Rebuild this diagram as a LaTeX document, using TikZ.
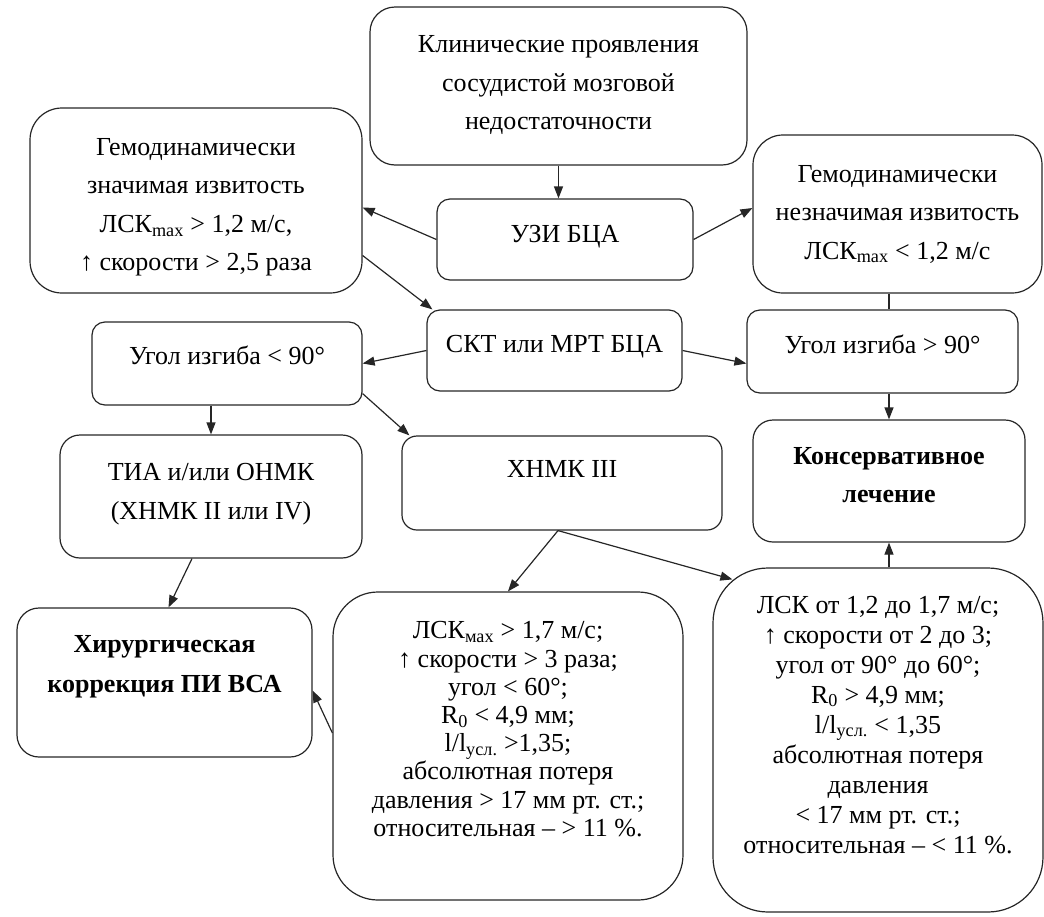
\documentclass[tikz,border=0pt]{standalone}
\usepackage{fontspec}
\setmainfont{Liberation Serif}
\usetikzlibrary{arrows.meta}
\newcommand{\padbot}[1]{\rule[-#1]{0pt}{#1}}
\newcommand{\padtop}[1]{\rule{0pt}{#1}}

\begin{document}
\begin{tikzpicture}[x=1pt, y=-1pt,
    box/.style={draw=black!85, line width=1.2pt, align=center, inner sep=0pt,
        font=\fontsize{26}{38.5}\selectfont},
    single/.style={font=\fontsize{26}{#1}\selectfont},
    boldbox/.style={font=\fontsize{26}{#1}\selectfont\bfseries},
    arr/.style={draw=black!85, line width=1.2pt, -{Triangle[length=12pt, width=9pt]}}]
    \useasboundingbox (0,0) rectangle (1044,916);

    % Top of the scheme
    \node[box, rounded corners=25pt, minimum width=377pt, minimum height=158pt] (clin) at (558.5,86)
        {Клинические проявления\\сосудистой мозговой\\недостаточности\padbot{7pt}};
    \node[box, rounded corners=13pt, minimum width=256pt, minimum height=81pt] (uzi) at (565,239.5)
        {УЗИ БЦА\padbot{11pt}};
    \node[box, rounded corners=32pt, minimum width=332pt, minimum height=185pt] (gem1) at (196,200.5)
        {\padtop{31pt}Гемодинамически\\значимая извитость\\ЛСК\textsubscript{max} > 1,2 м/с,\\↑ скорости > 2,5 раза};
    \node[box, rounded corners=30pt, minimum width=289pt, minimum height=158pt] (gem2) at (897.5,214)
        {Гемодинамически\\незначимая извитость\\ЛСК\textsubscript{max} < 1,2 м/с};

    % Second level
    \node[box, rounded corners=13pt, minimum width=255pt, minimum height=81pt] (skt) at (554.5,350.5)
        {СКТ или МРТ БЦА\padbot{13pt}};
    \node[box, rounded corners=13pt, minimum width=270pt, minimum height=83pt] (ugolL) at (227,363.5)
        {Угол изгиба < 90°\padbot{16pt}};
    \node[box, rounded corners=13pt, minimum width=271pt, minimum height=83pt] (ugolR) at (882.5,351.5)
        {Угол изгиба > 90°\padbot{15pt}};

    % Third level
    \node[box, rounded corners=20pt, minimum width=302pt, minimum height=123pt] (tia) at (211,496.5)
        {ТИА и/или ОНМК\\(ХНМК II или IV)\padbot{10pt}};
    \node[box, rounded corners=15pt, minimum width=320pt, minimum height=94pt] (xnmk) at (562,483)
        {ХНМК III\padbot{28pt}};
    \node[box, boldbox=38.5, rounded corners=20pt, minimum width=272pt, minimum height=122pt] (kons) at (889,481)
        {Консервативное\\лечение\padbot{12pt}};

    % Bottom
    \node[box, boldbox=40, rounded corners=22pt, minimum width=295pt, minimum height=149pt] (xir) at (164.5,682.5)
        {Хирургическая\\коррекция ПИ ВСА\padbot{37pt}};
    \node[box, single=28.2, rounded corners=45pt, minimum width=350pt, minimum height=308pt] (boxA) at (508,746)
        {ЛСК\textsubscript{мах} > 1,7 м/с;\\↑ скорости > 3 раза;\\угол < 60°;\\R\textsubscript{0} < 4,9 мм;\\l/l\textsubscript{усл.} >1,35;\\абсолютная потеря\\давления > 17 мм рт. ст.;\\относительная – > 11 \%.\padbot{34pt}};
    \node[box, single=30, rounded corners=55pt, minimum width=330pt, minimum height=344pt] (boxB) at (878,740)
        {ЛСК от 1,2 до 1,7 м/с;\\↑ скорости от 2 до 3;\\угол от 90° до 60°;\\R\textsubscript{0} > 4,9 мм;\\l/l\textsubscript{усл.} < 1,35\\абсолютная потеря\\давления\\< 17 мм рт. ст.;\\относительная – < 11 \%.\padbot{31pt}};

    % Connectors
    \draw[arr] (clin.south) -- (clin.south |- uzi.north);
    \draw[arr] (uzi.west) -- ([yshift=-7pt]gem1.east);
    \draw[arr] (uzi.east) -- ([yshift=6pt]gem2.west);
    \draw[arr] ([yshift=-55pt]gem1.east) -- ([xshift=6pt]skt.north west);
    \draw[arr] (skt.west) -- (ugolL.east);
    \draw[arr] (skt.east) -- ([yshift=-12pt]ugolR.west);
    \draw[draw=black!85, line width=1.2pt] (kons.north |- gem2.south) -- (kons.north |- ugolR.north);
    \draw[arr] (kons.north |- ugolR.south) -- (kons.north);
    \draw[arr] (tia.north |- ugolL.south) -- (tia.north);
    \draw[arr] ([yshift=12pt]ugolL.south east) -- ([xshift=8pt]xnmk.north west);
    \draw[arr] ([xshift=-19pt]tia.south) -- ([xshift=4pt]xir.north);
    \draw[arr] ([xshift=-4pt]xnmk.south) -- (boxA.north);
    \draw[arr] ([xshift=-4pt]xnmk.south) -- ([xshift=20pt,yshift=-12pt]boxB.north west);
    \draw[arr] (kons.south |- boxB.north) -- (kons.south);
    \draw[arr] ([yshift=13pt]boxA.west) -- ([yshift=-8pt]xir.east);
\end{tikzpicture}
\end{document}
